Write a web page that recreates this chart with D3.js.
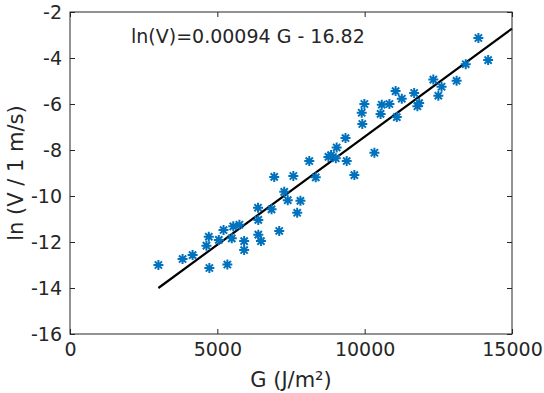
<!DOCTYPE html>
<html>
<head>
<meta charset="utf-8">
<script src="https://cdn.jsdelivr.net/npm/d3@7"></script>
<style>
  body { margin: 0; background: #fff; }
  text { font-family: "DejaVu Sans", sans-serif; fill: #262626; }
</style>
</head>
<body>
<div id="chart"></div>
<script>
// G (J/m^2) and ln(V) values
var gVals = [3000, 3820, 4160, 4730, 5340, 4630, 4710, 5050, 5210, 5490,
             5540, 5750, 5910, 5910, 6380, 6390, 6390, 6480, 6840, 6930,
             7100, 7270, 7390, 7580, 7710, 7820, 8120, 8340, 8770, 8860,
             9020, 9050, 9350, 9390, 9650, 9900, 9920, 9990, 10330, 10540,
             10580, 10840, 11050, 11090, 11260, 11680, 11790, 11850, 12330, 12500,
             12610, 13120, 13430, 13860, 14190];
var lnV = [-13.0, -12.74, -12.57, -13.13, -12.98, -12.16, -11.77, -11.91, -11.48, -11.84,
           -11.32, -11.25, -11.96, -12.35, -10.51, -11.04, -11.68, -11.96, -10.58, -9.17,
           -11.52, -9.82, -10.18, -9.13, -10.73, -10.21, -8.48, -9.19, -8.30, -8.22,
           -8.36, -7.89, -7.48, -8.48, -9.09, -6.38, -6.87, -6.0, -8.12, -6.43,
           -6.03, -6.0, -5.44, -6.57, -5.77, -5.52, -6.10, -5.96, -4.94, -5.64,
           -5.25, -4.99, -4.27, -3.13, -4.09];

var fitSlope = 0.00094, fitIcpt = -16.82;
var fitRange = [3000, 15000];
var xTicks = [0, 5000, 10000, 15000];
var yTicks = [-16, -14, -12, -10, -8, -6, -4, -2];
var fitLabel = "ln(V)=0.00094 G - 16.82";

var W = 544, H = 393;
var pad = {l: 70, r: 32, t: 12, b: 59};
var axisCol = "#262626", blue = "#0072bd";

var svg = d3.select('#chart').append('svg')
    .attr('width', W)
    .attr('height', H);

var x = d3.scaleLinear().domain([0, 15000]).range([pad.l, W - pad.r]);
var y = d3.scaleLinear().domain([-16, -2]).range([H - pad.b, pad.t]);

// fitted line
svg.append('line')
    .attr('x1', x(fitRange[0])).attr('y1', y(fitSlope * fitRange[0] + fitIcpt))
    .attr('x2', x(fitRange[1])).attr('y2', y(fitSlope * fitRange[1] + fitIcpt))
    .attr('stroke', 'black')
    .attr('stroke-width', 2.2);

// asterisk markers
var r = 5, rd = r * 0.72;
var star = 'M' + (-r) + ',0H' + r + 'M0,' + (-r) + 'V' + r +
           'M' + (-rd) + ',' + (-rd) + 'L' + rd + ',' + rd +
           'M' + (-rd) + ',' + rd + 'L' + rd + ',' + (-rd);

svg.append('g')
    .selectAll('path')
    .data(gVals)
    .enter()
    .append('path')
      .attr('transform', (d, i) => 'translate(' + x(d) + ',' + y(lnV[i]) + ')')
      .attr('d', star)
      .attr('stroke', blue)
      .attr('stroke-width', 2)
      .attr('fill', 'none');

// axes, ticks inward on all four sides
var tk = 5;
var fmt = d => String(d);
var xb = d3.axisBottom(x).tickValues(xTicks).tickSizeInner(-tk).tickSizeOuter(0).tickPadding(9).tickFormat(fmt);
var xt = d3.axisTop(x).tickValues(xTicks).tickSizeInner(-tk).tickSizeOuter(0).tickFormat('');
var yl = d3.axisLeft(y).tickValues(yTicks).tickSizeInner(-tk).tickSizeOuter(0).tickPadding(8).tickFormat(fmt);
var yr = d3.axisRight(y).tickValues(yTicks).tickSizeInner(-tk).tickSizeOuter(0).tickFormat('');

function styleAxis(g) {
    g.selectAll('.domain').remove();
    g.selectAll('line').attr('stroke', axisCol);
    g.selectAll('text')
        .attr('font-family', '"DejaVu Sans", sans-serif')
        .attr('font-size', 19)
        .attr('fill', axisCol);
}

svg.append('g').attr('transform', 'translate(0,' + (H - pad.b) + ')').call(xb).call(styleAxis);
svg.append('g').attr('transform', 'translate(0,' + pad.t + ')').call(xt).call(styleAxis);
svg.append('g').attr('transform', 'translate(' + pad.l + ',0)').call(yl).call(styleAxis);
svg.append('g').attr('transform', 'translate(' + (W - pad.r) + ',0)').call(yr).call(styleAxis);

svg.append('rect')
    .attr('x', pad.l).attr('y', pad.t)
    .attr('width', W - pad.l - pad.r).attr('height', H - pad.t - pad.b)
    .attr('fill', 'none')
    .attr('stroke', axisCol)
    .attr('stroke-width', 1);

// labels
svg.append('text')
    .attr('x', (pad.l + W - pad.r) / 2)
    .attr('y', H - 6)
    .attr('text-anchor', 'middle')
    .attr('font-size', 21)
    .text('G (J/m²)');

svg.append('text')
    .attr('transform', 'translate(23,' + ((pad.t + H - pad.b) / 2) + ') rotate(-90)')
    .attr('text-anchor', 'middle')
    .attr('font-size', 21)
    .text('ln (V / 1 m/s)');

svg.append('text')
    .attr('x', 131)
    .attr('y', 43)
    .attr('font-size', 19)
    .attr('fill', 'black')
    .text(fitLabel);
</script>
</body>
</html>
